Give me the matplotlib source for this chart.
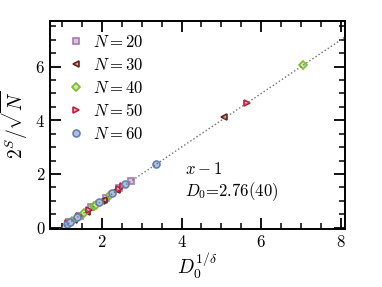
import numpy as np
import matplotlib
matplotlib.use('Agg')
import matplotlib.pyplot as plt
from matplotlib.ticker import MultipleLocator

plt.rcParams['font.family'] = 'serif'
plt.rcParams['font.serif'] = ['cmr10']
plt.rcParams['mathtext.fontset'] = 'cm'
plt.rcParams['axes.formatter.use_mathtext'] = True

# data: x = D0^(1/delta), y = 2^S / sqrt(N)
x_n20 = [1.18, 1.45, 1.74, 2.10, 2.44, 2.73]
y_n20 = [0.20, 0.44, 0.76, 1.10, 1.46, 1.74]
x_n30 = [1.30, 1.62, 2.00, 2.06, 2.38, 5.07]
y_n30 = [0.28, 0.60, 0.98, 1.04, 1.40, 4.13]
x_n40 = [1.24, 1.55, 1.80, 1.86, 2.20, 7.05]
y_n40 = [0.26, 0.56, 0.82, 0.86, 1.22, 6.07]
x_n50 = [1.15, 1.42, 1.68, 2.42, 2.52, 5.64]
y_n50 = [0.16, 0.42, 0.66, 1.44, 1.55, 4.65]
x_n60 = [1.12, 1.20, 1.37, 1.92, 2.25, 2.58, 3.36]
y_n60 = [0.12, 0.21, 0.40, 0.96, 1.29, 1.63, 2.38]

series = [
    (x_n20, y_n20, 's', '#dcc4df', '#a77bb0', '$N=20$'),
    (x_n30, y_n30, '<', '#c9a79c', '#6a2418', '$N=30$'),
    (x_n40, y_n40, 'D', '#cfe8a8', '#7cbc2c', '$N=40$'),
    (x_n50, y_n50, '>', '#f0b0bc', '#c01c3a', '$N=50$'),
    (x_n60, y_n60, 'o', '#aebfe0', '#6680b4', '$N=60$'),
]

fig = plt.figure(figsize=(3.82, 2.87), dpi=100)
ax = fig.add_axes([0.131, 0.202, 0.772, 0.725])

xx = np.array([0.85, 8.1])
ax.plot(xx, xx - 1, ':', color='#707070', lw=1.0, zorder=3)

for xs, ys, m, fc, ec, lab in series:
    ms = 4.3 if m == 'D' else 5.0
    ax.plot(xs, ys, m, ms=ms, mfc=fc, mec=ec, mew=1.2,
            label=lab, ls='none', zorder=2)

ax.text(4.08, 2.2, '$x-1$', fontsize=12, va='center')
ax.text(4.08, 1.33, '$D_0$=2.76(40)', fontsize=12, va='center')

ax.set_xlim(0.7, 8.1)
ax.set_ylim(-0.05, 7.7)
ax.xaxis.set_major_locator(MultipleLocator(2))
ax.xaxis.set_minor_locator(MultipleLocator(0.5))
ax.yaxis.set_major_locator(MultipleLocator(2))
ax.yaxis.set_minor_locator(MultipleLocator(0.5))
ax.tick_params(which='both', direction='in', top=True, right=True, labelsize=12)
ax.tick_params(which='major', length=8, width=1.3)
ax.tick_params(which='minor', length=4.5, width=1.1)
for s in ax.spines.values():
    s.set_linewidth(1.4)

ax.set_xlabel(r'$D_0^{1/\delta}$', fontsize=14, labelpad=0)
ax.set_ylabel(r'$2^S/\sqrt{N}$', fontsize=14, labelpad=4)

ax.legend(loc='upper left', frameon=False, fontsize=12, handlelength=0.8,
          handletextpad=0.6, labelspacing=0.4, borderaxespad=0.3,
          borderpad=0.5, bbox_to_anchor=(0.02, 1.0))

fig.savefig('out.png', dpi=100)
